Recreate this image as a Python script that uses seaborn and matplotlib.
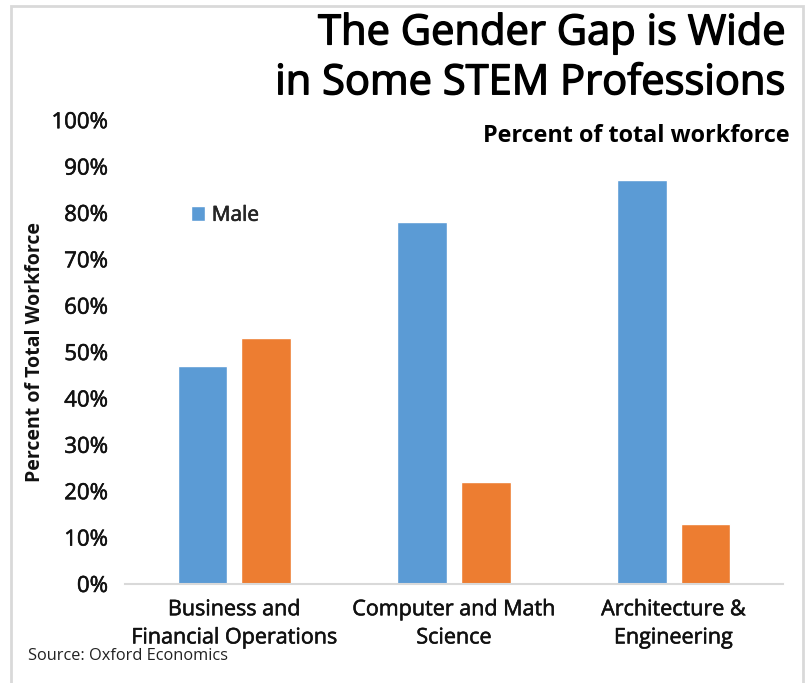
import matplotlib
matplotlib.use("Agg")
import matplotlib.pyplot as plt
import matplotlib.patheffects as pe
import seaborn as sns
import pandas as pd
from matplotlib.patches import Rectangle
from matplotlib.ticker import PercentFormatter

categories = ["Business and\nFinancial Operations", "Computer and Math\nScience", "Architecture &\nEngineering"]
male = [0.47, 0.78, 0.87]
female = [0.53, 0.22, 0.13]
genders = ["Male", "Female"]
colors = ["#5B9BD5", "#ED7D31"]

df = pd.DataFrame({
    "Category": categories * 2,
    "Gender": [genders[0]] * 3 + [genders[1]] * 3,
    "Value": male + female,
})

sns.set_theme(style="white")
plt.rcParams["font.family"] = ["Open Sans", "DejaVu Sans"]

medium = [pe.withStroke(linewidth=0.4, foreground="#111111")]
medium_big = [pe.withStroke(linewidth=1.0, foreground="black")]

fig = plt.figure(figsize=(8.10, 6.83), dpi=100)
ax = fig.add_axes([0.154, 0.145, 0.813, 0.679])

sns.barplot(data=df, x="Category", y="Value", hue="Gender", palette=colors,
            width=0.58, gap=0.22, ax=ax, saturation=1, legend=True)

ax.set_ylim(0, 1)
ax.set_yticks([i / 10 for i in range(11)])
ax.yaxis.set_major_formatter(PercentFormatter(1.0, decimals=0))
ax.set_xlim(-0.5, 2.5)
for s in ["top", "right", "left"]:
    ax.spines[s].set_visible(False)
ax.spines["bottom"].set_color("#D9D9D9")
ax.spines["bottom"].set_linewidth(1.5)
ax.tick_params(axis="y", length=0, pad=12, labelsize=16, colors="#111111")
ax.tick_params(axis="x", length=0, pad=11, labelsize=15.5, colors="#111111")
for lab in ax.get_yticklabels() + ax.get_xticklabels():
    lab.set_path_effects(medium)
for lab in ax.get_xticklabels():
    lab.set_linespacing(1.45)
ax.set_xlabel("")
ax.set_ylabel("Percent of Total Workforce", fontsize=14, fontweight="bold", labelpad=5, color="#111111")

handles, labels = ax.get_legend_handles_labels()
leg = ax.legend(handles[:1], labels[:1], loc="upper left", bbox_to_anchor=(0.072, 0.858),
                frameon=False, fontsize=15, handlelength=0.7, handleheight=0.7, handletextpad=0.3)
for t in leg.get_texts():
    t.set_path_effects(medium)

fig.text(0.970, 0.935, "The Gender Gap is Wide", ha="right", va="baseline", fontsize=30,
         color="black", path_effects=medium_big)
fig.text(0.970, 0.862, "in Some STEM Professions", ha="right", va="baseline", fontsize=30,
         color="black", path_effects=medium_big)
fig.text(0.975, 0.792, "Percent of total workforce", ha="right", va="baseline", fontsize=16.8,
         fontweight="bold", color="black")
fig.text(0.035, 0.033, "Source: Oxford Economics", ha="left", va="baseline", fontsize=11.8, color="#222222")

fig.patches.append(Rectangle((11 / 810, -0.05), (803 - 11) / 810, 1.05 - 6 / 683,
                             transform=fig.transFigure, fill=False, edgecolor="#D9D9D9", linewidth=2))

fig.savefig("out.png", dpi=100)
